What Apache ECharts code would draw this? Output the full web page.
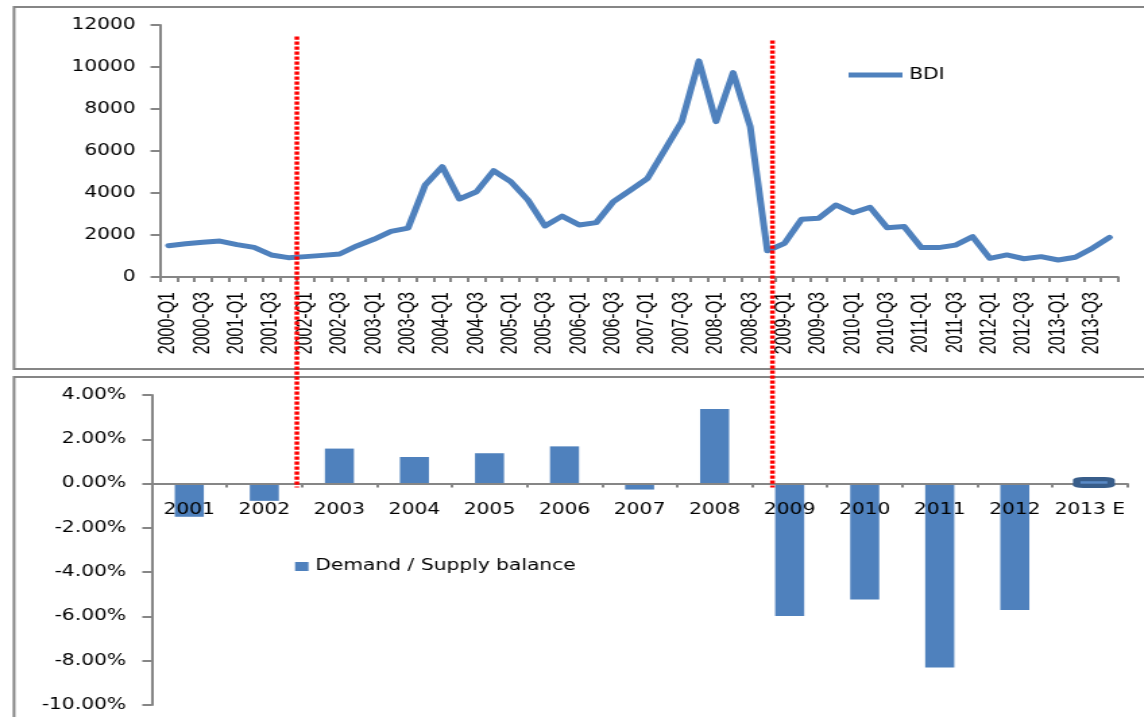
<!DOCTYPE html>
<html>
<head>
<meta charset="utf-8">
<script src="https://cdn.jsdelivr.net/npm/echarts@6/dist/echarts.min.js"></script>
<style>
  html, body { margin: 0; padding: 0; background: #fff; overflow: hidden; }
  /* the chart is laid out on a narrower canvas and widened to the page width */
  #chart { width: 848px; height: 717px; transform: scaleX(1.349); transform-origin: 0 0; }
</style>
</head>
<body>
<div id="chart"></div>
<script>
// Quarterly Baltic Dry Index
const quarters = [
  '2000-Q1','2000-Q2','2000-Q3','2000-Q4','2001-Q1','2001-Q2','2001-Q3','2001-Q4',
  '2002-Q1','2002-Q2','2002-Q3','2002-Q4','2003-Q1','2003-Q2','2003-Q3','2003-Q4',
  '2004-Q1','2004-Q2','2004-Q3','2004-Q4','2005-Q1','2005-Q2','2005-Q3','2005-Q4',
  '2006-Q1','2006-Q2','2006-Q3','2006-Q4','2007-Q1','2007-Q2','2007-Q3','2007-Q4',
  '2008-Q1','2008-Q2','2008-Q3','2008-Q4','2009-Q1','2009-Q2','2009-Q3','2009-Q4',
  '2010-Q1','2010-Q2','2010-Q3','2010-Q4','2011-Q1','2011-Q2','2011-Q3','2011-Q4',
  '2012-Q1','2012-Q2','2012-Q3','2012-Q4','2013-Q1','2013-Q2','2013-Q3','2013-Q4'
];
const bdi = [
  1490, 1580, 1650, 1710, 1540, 1410, 1050, 920,
  970, 1030, 1095, 1480, 1795, 2175, 2330, 4380,
  5250, 3715, 4060, 5060, 4540, 3670, 2430, 2900,
  2480, 2590, 3590, 4140, 4700, 6050, 7400, 10290,
  7400, 9730, 7160, 1250, 1600, 2750, 2795, 3430,
  3060, 3320, 2350, 2400, 1400, 1400, 1520, 1920,
  890, 1050, 870, 970, 810, 940, 1370, 1890
];

// Yearly dry bulk demand / supply balance (%)
const years = ['2001','2002','2003','2004','2005','2006','2007','2008','2009','2010','2011','2012','2013 E'];
const balance = [-1.5, -0.78, 1.58, 1.2, 1.37, 1.68, -0.27, 3.37, -5.98, -5.24, -8.31, -5.71, 0.1];
const estimateYear = years[years.length - 1];
const estimateValue = balance[balance.length - 1];

// Regime dividers, as positions along the quarter axis (index units)
const dividerAt = [7.5, 35.3];
const dividerTop = [11450, 11260];   // BDI scale value where each divider starts
const dividerBottom = -0.18;         // balance scale value where dividers end

const FONT = 'DejaVu Sans';
const GREY = '#868686';
const BLUE = '#4f81bd';

const chart = echarts.init(document.getElementById('chart'), null, { renderer: 'canvas' });

const frames = [
  { type: 'rect', silent: true, z: -10, shape: { x: 10.4, y: 7, width: 900, height: 362 },
    style: { fill: 'none', stroke: GREY, lineWidth: 2 } },
  { type: 'rect', silent: true, z: -10, shape: { x: 10.4, y: 377, width: 900, height: 400 },
    style: { fill: 'none', stroke: GREY, lineWidth: 2 } }
];

chart.setOption({
  animation: false,
  backgroundColor: '#fff',
  grid: [
    { left: 118.6, right: 19.2, top: 25, height: 252, outerBoundsMode: 'none', containLabel: false },
    { left: 112.5, right: 12.3, top: 395, height: 310, outerBoundsMode: 'none', containLabel: false }
  ],
  legend: [
    {
      data: [{ name: 'BDI', icon: 'rect' }], left: 629, top: 67.5, padding: 0,
      itemWidth: 40, itemHeight: 5, itemGap: 5,
      textStyle: { fontFamily: FONT, fontSize: 15, color: '#000' }
    },
    {
      data: [{ name: 'Demand / Supply balance', icon: 'rect' }], left: 218.7, top: 559, padding: 0,
      itemWidth: 10, itemHeight: 9, itemGap: 5,
      textStyle: { fontFamily: FONT, fontSize: 15, color: '#000' }
    }
  ],
  xAxis: [
    {
      type: 'category', gridIndex: 0, data: quarters, boundaryGap: true,
      axisLine: { show: true, onZero: true, lineStyle: { color: GREY, width: 2 } },
      axisTick: { show: true, interval: 0, length: 5, lineStyle: { color: GREY, width: 2 } },
      axisLabel: { interval: 1, rotate: 90, margin: 15, fontFamily: 'Liberation Sans', fontSize: 16, color: '#000' },
      splitLine: { show: false }
    },
    {
      type: 'category', gridIndex: 1, data: years, boundaryGap: true, z: 3,
      axisLine: { show: true, onZero: false, lineStyle: { color: GREY, width: 2 } },
      axisTick: { show: true, interval: 0, length: 4, lineStyle: { color: GREY, width: 2 } },
      axisLabel: { interval: 0, margin: 19, fontFamily: FONT, fontSize: 15, color: '#000' },
      splitLine: { show: false }
    }
  ],
  yAxis: [
    {
      type: 'value', gridIndex: 0, min: 0, max: 12000, interval: 2000,
      axisLine: { show: true, lineStyle: { color: GREY, width: 2 } },
      axisTick: { show: true, length: 7, lineStyle: { color: GREY, width: 2 } },
      axisLabel: { margin: 18, fontFamily: FONT, fontSize: 15, color: '#000', formatter: v => String(v) },
      splitLine: { show: false }
    },
    {
      type: 'value', gridIndex: 1, min: -10, max: 4, interval: 2,
      axisLine: { show: true, lineStyle: { color: GREY, width: 2 } },
      axisTick: { show: true, length: 7, lineStyle: { color: GREY, width: 2 } },
      axisLabel: {
        margin: 19, fontFamily: FONT, fontSize: 15, color: '#000',
        formatter: v => v.toFixed(2) + '%'
      },
      splitLine: { show: false }
    }
  ],
  series: [
    {
      name: 'BDI', type: 'line', xAxisIndex: 0, yAxisIndex: 0,
      data: bdi, symbol: 'none', smooth: false,
      itemStyle: { color: BLUE },
      lineStyle: { color: BLUE, width: 5, cap: 'round', join: 'round' },
      z: 3
    },
    {
      name: 'Demand / Supply balance', type: 'bar', xAxisIndex: 1, yAxisIndex: 1,
      barWidth: '38.7%',
      itemStyle: { color: BLUE },
      data: balance,
      z: 2
    },
    {
      // selection outline around the estimated year's bar
      name: 'estimate', type: 'scatter', xAxisIndex: 1, yAxisIndex: 1, silent: true, z: 4,
      itemStyle: { opacity: 1 },
      data: [
        { value: [estimateYear, estimateValue / 2], symbol: 'roundRect', symbolSize: [31, 11],
          symbolOffset: [3, 0], itemStyle: { color: '#385d8a', opacity: 1 } },
        { value: [estimateYear, estimateValue / 2], symbol: 'rect', symbolSize: [20, 2.5],
          symbolOffset: [3, 0], itemStyle: { color: '#5a8ac6', opacity: 1 } }
      ]
    }
  ],
  graphic: frames
});

// Move the yearly axis onto the zero line of the balance scale
const yZero = chart.convertToPixel({ yAxisIndex: 1 }, 0);
const yMin = chart.convertToPixel({ yAxisIndex: 1 }, -10);
chart.setOption({ xAxis: [{}, { offset: -(yMin - yZero) }] });

// Red dotted dividers, placed from the axes' own scales
function quarterX(pos) {
  const i = Math.floor(pos), f = pos - i;
  const a = chart.convertToPixel({ xAxisIndex: 0 }, i);
  const b = chart.convertToPixel({ xAxisIndex: 0 }, i + 1);
  return a + (b - a) * f;
}
const yEnd = chart.convertToPixel({ yAxisIndex: 1 }, dividerBottom);
const dividers = dividerAt.map((pos, k) => {
  const x = quarterX(pos);
  return {
    type: 'line', silent: true, z: 100,
    shape: { x1: x, y1: chart.convertToPixel({ yAxisIndex: 0 }, dividerTop[k]), x2: x, y2: yEnd },
    style: { stroke: '#ff0000', lineWidth: 3.5, lineDash: [3.3, 1.7] }
  };
});
chart.setOption({ graphic: frames.concat(dividers) });
</script>
</body>
</html>
